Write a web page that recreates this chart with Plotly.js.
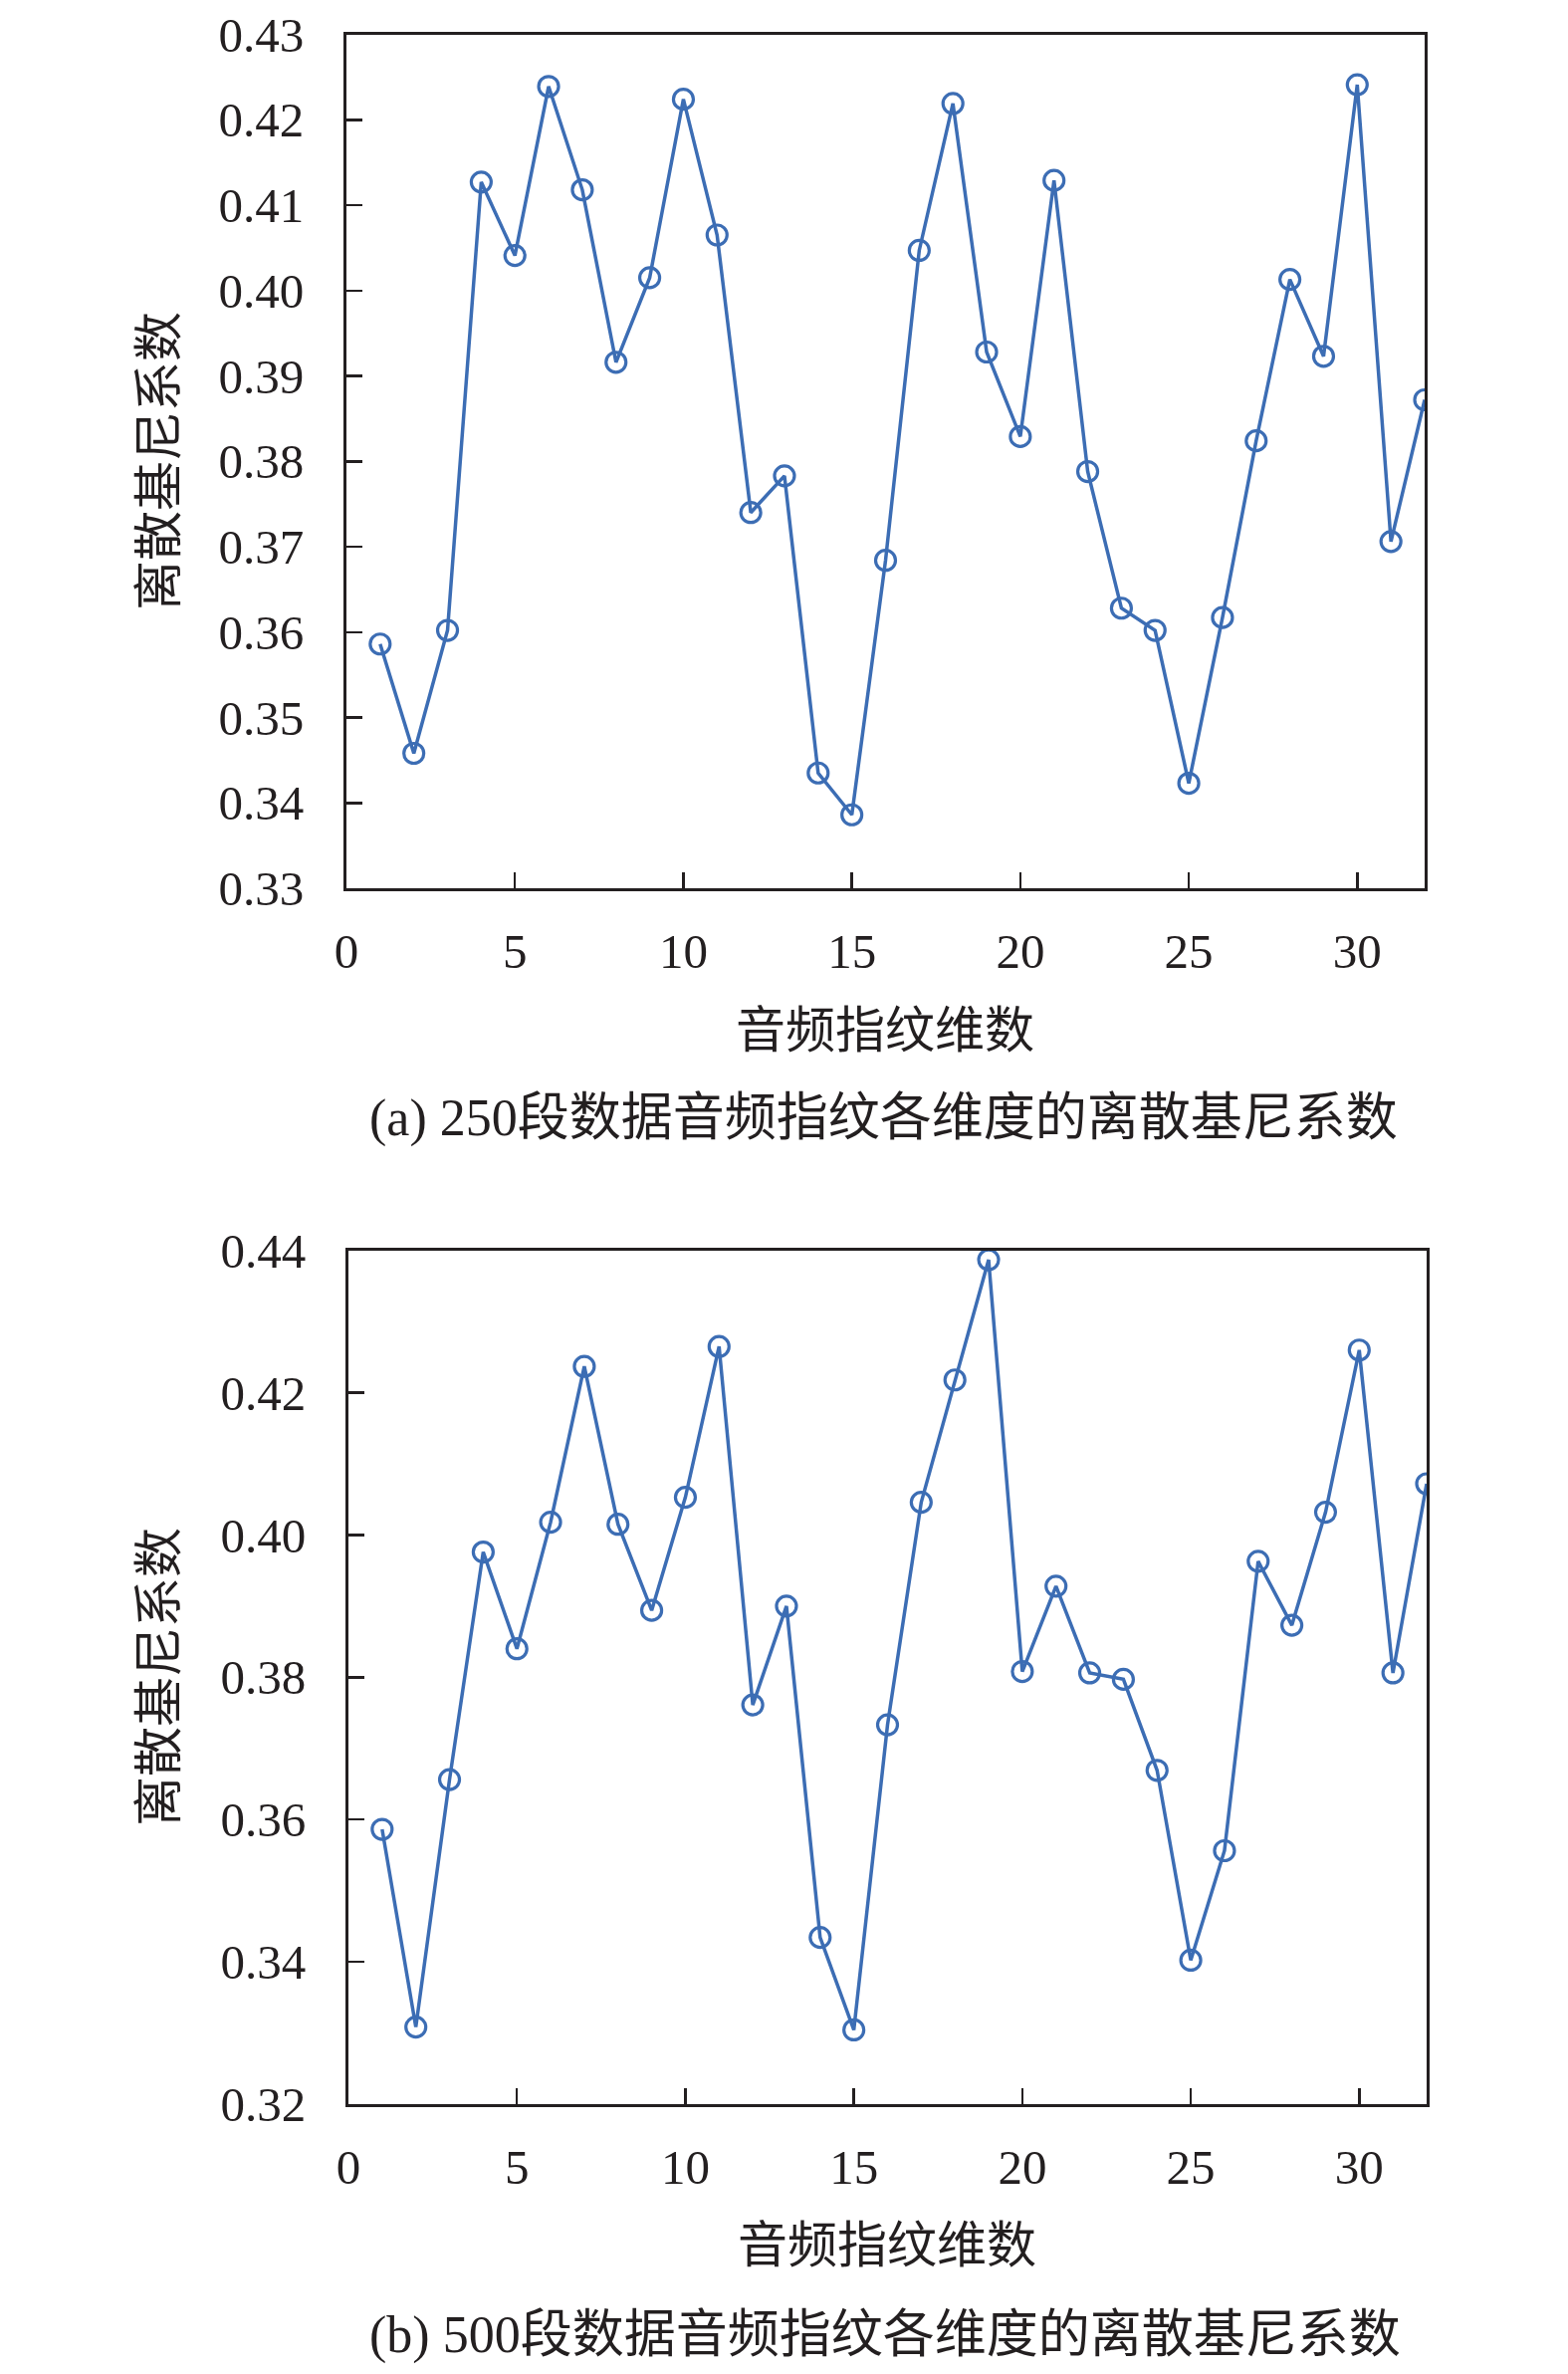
<!DOCTYPE html>
<html>
<head>
<meta charset="utf-8">
<script src="https://cdn.plot.ly/plotly-3.0.1.min.js"></script>
<style>
  html, body { margin: 0; padding: 0; background: #ffffff; }
  #plot { width: 1575px; height: 2384px; }
</style>
</head>
<body>
<div id="plot"></div>
<script>
// fingerprint dimension index 1..32
const dims = [1, 2, 3, 4, 5, 6, 7, 8, 9, 10, 11, 12, 13, 14, 15, 16,
  17, 18, 19, 20, 21, 22, 23, 24, 25, 26, 27, 28, 29, 30, 31, 32];

// (a) 250 clips
const gini250 = [0.3586, 0.3458, 0.3602, 0.4127, 0.4041, 0.4239, 0.4118, 0.3916,
  0.4015, 0.4224, 0.4065, 0.3740, 0.3783, 0.3435, 0.3386, 0.3684,
  0.4047, 0.4219, 0.3928, 0.3829, 0.4129, 0.3788, 0.3628, 0.3602,
  0.3423, 0.3617, 0.3824, 0.4013, 0.3923, 0.4241, 0.3706, 0.3872];

// (b) 500 clips
const gini500 = [0.3586, 0.3308, 0.3656, 0.3976, 0.3840, 0.4018, 0.4237, 0.4015,
  0.3894, 0.4053, 0.4265, 0.3761, 0.3900, 0.3434, 0.3304, 0.3733,
  0.4046, 0.4218, 0.4387, 0.3808, 0.3928, 0.3806, 0.3797, 0.3669,
  0.3402, 0.3556, 0.3963, 0.3873, 0.4032, 0.4260, 0.3806, 0.4072];

const xTicks = [0, 5, 10, 15, 20, 25, 30];
const yTicksA = [0.33, 0.34, 0.35, 0.36, 0.37, 0.38, 0.39, 0.40, 0.41, 0.42, 0.43];
const yTicksB = [0.32, 0.34, 0.36, 0.38, 0.40, 0.42, 0.44];

const yTitle = '离散基尼系数';
const xTitle = '音频指纹维数';
const captionA = '(a) 250段数据音频指纹各维度的离散基尼系数';
const captionB = '(b) 500段数据音频指纹各维度的离散基尼系数';

const W = 1575, H = 2384;
const BLUE = '#3c6db4';
const INK = '#231f20';
const FONT = "'Liberation Serif', 'Times New Roman', 'Noto Sans CJK SC', serif";

// pixel helpers -> paper fractions
function px(x) { return x / W; }
function py(y) { return 1 - y / H; }

function lineTrace(y, xa, ya) {
  return {
    x: dims, y: y,
    xaxis: xa, yaxis: ya,
    mode: 'lines+markers',
    line: { color: BLUE, width: 3.5 },
    marker: { symbol: 'circle-open', size: 20, color: BLUE, line: { width: 3.2, color: BLUE } },
    hoverinfo: 'skip',
    showlegend: false,
  };
}

function xAxis(domain, anchor) {
  return {
    domain: domain,
    anchor: anchor,
    range: [0, 32],
    tickmode: 'array',
    tickvals: xTicks,
    ticktext: xTicks.map(String),
    ticks: 'inside',
    ticklen: 16,
    tickwidth: 2.5,
    tickcolor: INK,
    ticklabelstandoff: 18,
    showline: true,
    linewidth: 3,
    linecolor: INK,
    mirror: true,
    showgrid: false,
    zeroline: false,
    tickfont: { family: FONT, size: 49, color: INK },
  };
}

function yAxis(domain, anchor, ticks, range) {
  return {
    domain: domain,
    anchor: anchor,
    range: range,
    tickmode: 'array',
    tickvals: ticks,
    ticktext: ticks.map(v => v.toFixed(2)),
    ticks: 'inside',
    ticklen: 16,
    tickwidth: 2.5,
    tickcolor: INK,
    ticklabelstandoff: 30,
    showline: true,
    linewidth: 3,
    linecolor: INK,
    mirror: true,
    showgrid: false,
    zeroline: false,
    tickfont: { family: FONT, size: 49, color: INK },
  };
}

function textNote(text, x, y, size, angle) {
  return {
    text: text,
    xref: 'paper', yref: 'paper',
    x: px(x), y: py(y),
    xanchor: 'center', yanchor: 'middle',
    showarrow: false,
    textangle: angle || 0,
    font: { family: FONT, size: size, color: INK },
  };
}

const data = [
  lineTrace(gini250, 'x', 'y'),
  lineTrace(gini500, 'x2', 'y2'),
];

const layout = {
  width: W,
  height: H,
  margin: { l: 0, r: 0, t: 0, b: 0 },
  paper_bgcolor: '#ffffff',
  plot_bgcolor: '#ffffff',
  showlegend: false,
  hovermode: false,
  xaxis: xAxis([px(348), px(1431)], 'y'),
  yaxis: yAxis([py(892), py(34.5)], 'x', yTicksA, [0.33, 0.43]),
  xaxis2: xAxis([px(350), px(1433)], 'y2'),
  yaxis2: yAxis([py(2112.7), py(1255.8)], 'x2', yTicksB, [0.32, 0.44]),
  annotations: [
    textNote(yTitle, 160, 463, 50, -90),
    textNote(xTitle, 889, 1035, 50),
    textNote(captionA, 887, 1123, 52),
    textNote(yTitle, 160, 1684, 50, -90),
    textNote(xTitle, 891, 2255, 50),
    textNote(captionB, 889, 2345, 52),
  ],
};

Plotly.newPlot('plot', data, layout, { displayModeBar: false, staticPlot: true });
</script>
</body>
</html>
